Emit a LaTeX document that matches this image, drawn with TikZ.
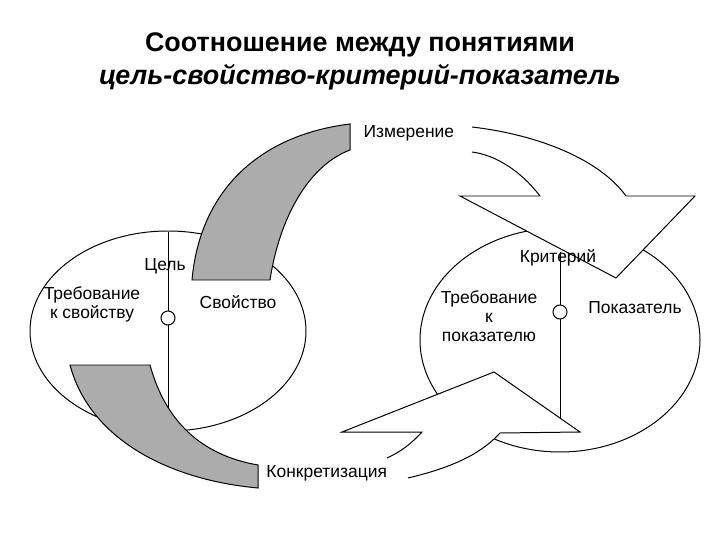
\documentclass[tikz,border=0pt]{standalone}
\usepackage{fontspec}
\setmainfont{Liberation Sans}
\begin{document}
\begin{tikzpicture}[x=1bp,y=-1bp,line width=1pt,
  lbl/.style={font=\fontsize{17.5}{19}\selectfont,inner sep=1pt},
  band/.style={draw,fill=gray!65},
  arr/.style={draw,fill=white}]
\useasboundingbox (0,0) rectangle (720,540);
\node[font=\fontsize{27}{30}\selectfont\bfseries] (t1) at (360,45) {Соотношение между понятиями};
\node[font=\fontsize{27}{30}\selectfont\bfseries\itshape] (t2) at (360,77) {цель-свойство-критерий-показатель};
% circles
\draw (168,331) ellipse (138 and 100);
\draw (560,340) ellipse (140 and 112);
\coordinate (l1) at (168,232); \coordinate (l2) at (168,431);
\draw (l1) -- (168,311) (168,325) -- (l2);
\node[draw,circle,minimum size=14bp,inner sep=0] (lc) at (168,318) {};
\coordinate (r1) at (560,252); \coordinate (r2) at (560,428);
\draw (r1) -- (560,305) (560,319) -- (r2);
\node[draw,circle,minimum size=14bp,inner sep=0] (rc) at (560,312) {};
% gray bands
\draw[band] (350,124) .. controls (260,135) and (200,190) .. (192,280) -- (270,280)
  .. controls (280,215) and (310,165) .. (350,150) -- cycle;
\draw[band] (70,365) -- (150,365) .. controls (165,420) and (200,455) .. (258,465)
  -- (258,488) .. controls (170,480) and (90,440) .. (70,365) -- cycle;
% top right arrow
\filldraw[arr] (472,127) .. controls (540,135) and (600,160) .. (626,196) -- (695,196) -- (616,278)
  -- (460,196) -- (540,196) .. controls (520,170) and (495,155) .. (472,152);
% bottom arrow
\filldraw[arr] (408,478) .. controls (450,468) and (480,455) .. (500,433) -- (580,432) -- (494,372)
  -- (342,432) -- (422,432) .. controls (410,445) and (400,452) .. (387,458);
% labels
\node[lbl,anchor=west] (izm) at (362,133) {Измерение};
\node[lbl] (cel) at (165,266) {Цель};
\node[lbl,align=center] (treb1) at (92,304) {Требование\\к свойству};
\node[lbl] (svo) at (238,302) {Свойство};
\node[lbl] (krit) at (558,258) {Критерий};
\node[lbl,align=center] (treb2) at (489,316) {Требование\\к\\показателю};
\node[lbl] (pok) at (635,308) {Показатель};
\node[lbl,anchor=west] (konk) at (265,473) {Конкретизация};
\end{tikzpicture}
\end{document}
